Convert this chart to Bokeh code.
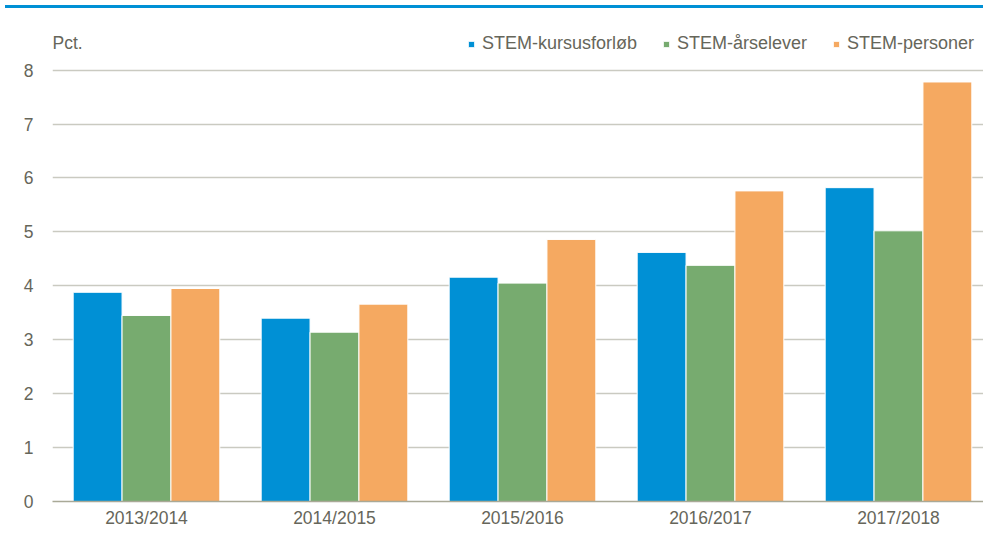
import numpy as np
from bokeh.plotting import figure
from bokeh.models import (ColumnDataSource, Range1d, FixedTicker, Legend,
                          LegendItem, Label, Div)
from bokeh.layouts import column
from bokeh.transform import dodge
from bokeh.embed import file_html
from bokeh.resources import INLINE

categories = ["2013/2014", "2014/2015", "2015/2016", "2016/2017", "2017/2018"]
series_names = ["STEM-kursusforløb", "STEM-årselever", "STEM-personer"]
kursusforloeb = [3.88, 3.40, 4.16, 4.62, 5.82]
aarselever = [3.45, 3.14, 4.05, 4.38, 5.02]
personer = [3.95, 3.66, 4.86, 5.76, 7.78]
y_ticks = [0, 1, 2, 3, 4, 5, 6, 7, 8]
y_unit = "Pct."

colors = ["#0090D5", "#77AB6F", "#F5A961"]
FONT = "Liberation Sans"
TEXT = "#66665A"
FS = "17.5px"

xs = np.arange(len(categories)) + 0.5
src = ColumnDataSource(dict(x=xs, k=kursusforloeb, a=aarselever, p=personer))

W = 983
LEFT = 52
p = figure(width=W, height=517, output_backend="svg", toolbar_location=None,
           x_range=Range1d(0, (W - LEFT) / 188), y_range=Range1d(0, 9.05),
           min_border_left=LEFT, min_border_right=0, min_border_top=0,
           min_border_bottom=26)
p.outline_line_color = None
p.background_fill_color = "white"

bw = 0.26
renderers = []
for off, col, c in zip([-bw, 0, bw], ["k", "a", "p"], colors):
    r = p.vbar(x=dodge("x", off), top=col, width=bw, source=src,
               fill_color=c, line_color="white", line_width=1)
    renderers.append(r)

p.xgrid.visible = False
p.ygrid.grid_line_color = "#CACAC1"
p.ygrid.grid_line_width = 1.5
p.ygrid.ticker = FixedTicker(ticks=y_ticks)

p.yaxis.ticker = FixedTicker(ticks=y_ticks)
p.yaxis.axis_line_color = None
p.yaxis.major_tick_line_color = None
p.yaxis.minor_tick_line_color = None
p.yaxis.major_tick_out = 0
p.yaxis.major_tick_in = 0
p.yaxis.major_label_text_font = FONT
p.yaxis.major_label_text_font_size = FS
p.yaxis.major_label_text_color = TEXT
p.yaxis.major_label_standoff = 19

p.xaxis.ticker = FixedTicker(ticks=list(xs))
p.xaxis.major_label_overrides = {float(x): c for x, c in zip(xs, categories)}
p.xaxis.axis_line_color = "#A9A997"
p.xaxis.axis_line_width = 1.5
p.xaxis.major_tick_line_color = None
p.xaxis.minor_tick_line_color = None
p.xaxis.major_tick_out = 0
p.xaxis.major_tick_in = 0
p.xaxis.major_label_text_font = FONT
p.xaxis.major_label_text_font_size = FS
p.xaxis.major_label_text_color = TEXT
p.xaxis.major_label_standoff = 6

p.add_layout(Label(x=0, y=8.5, text=y_unit, text_font=FONT, text_font_size=FS,
                   text_color=TEXT, text_baseline="alphabetic"))

legend = Legend(items=[LegendItem(label=n, renderers=[r]) for n, r in zip(series_names, renderers)],
                orientation="horizontal", location=(415, 447),
                label_text_font=FONT, label_text_font_size="18px", label_text_color=TEXT,
                glyph_width=8, glyph_height=8, label_standoff=7, spacing=25,
                label_height=18,
                padding=0, margin=0, border_line_color=None, background_fill_alpha=0)
p.add_layout(legend)

bar = Div(width=W, height=3, styles={"background-color": "#0090D5"})
layout = column(bar, p)

open("out.html", "w").write(file_html(layout, INLINE))
